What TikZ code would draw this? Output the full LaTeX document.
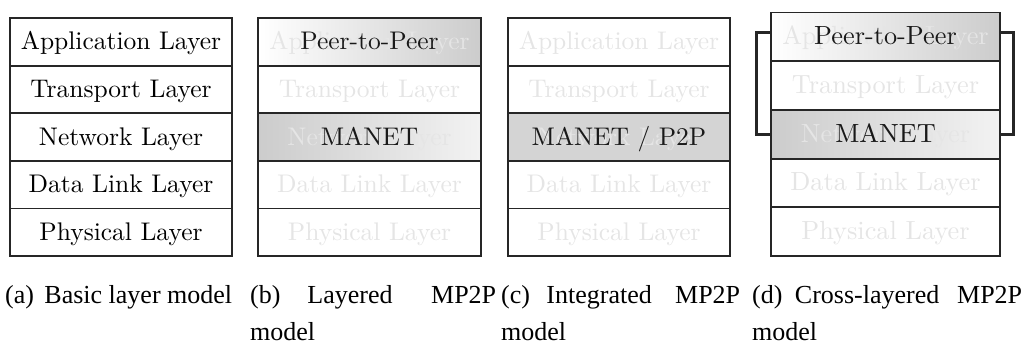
\documentclass[tikz,border=0pt]{standalone}
\usepackage{fontspec}
\newfontfamily\capfont{Liberation Serif}
\newfontfamily\boxfont{lmroman10-regular}[Extension=.otf]
\definecolor{fadetext}{gray}{0.9}
\definecolor{bandgray}{gray}{0.8}
\definecolor{bandlight}{gray}{0.95}
\definecolor{flatgray}{gray}{0.83}
\tikzset{
  layer/.style={draw=black!85, line width=1.8pt, inner sep=0pt,
    minimum height=47.6pt, text height=20pt, text depth=4pt,
    font=\boxfont\fontsize{25.5}{30}\selectfont},
  biglayer/.style={layer, minimum height=48.7pt,
    font=\boxfont\fontsize{26.3}{31}\selectfont},
  ghost/.style={text=fadetext},
  plain/.style={},
  p2pband/.style={left color=white, right color=bandgray},
  manetband/.style={left color=bandgray, right color=bandlight},
  mergedband/.style={fill=flatgray},
  overlay/.style={inner sep=0pt, anchor=base, text=black!90},
  bracket/.style={line width=3pt, draw=black!85},
  caption/.style={inner sep=0pt, anchor=base west, align=left,
    font=\capfont\fontsize{26}{37}\selectfont},
}
\newcommand\labelgap{\hspace{0pt plus 0.7fill}}
\begin{document}
\begin{tikzpicture}[x=1pt, y=-1pt]
\useasboundingbox (0,0) rectangle (1025,343);

% (a) basic five-layer stack
\foreach \t [count=\i] in {Application Layer,Transport Layer,Network Layer,Data Link Layer,Physical Layer}
  \node[layer, minimum width=222pt] (a\i) at (121,{18+47.6*(\i-0.5)}) {\t};

% (b) layered MP2P
\foreach \t/\s [count=\i] in {Application Layer/p2pband,Transport Layer/plain,Network Layer/manetband,Data Link Layer/plain,Physical Layer/plain}
  \node[layer, ghost, \s, minimum width=223pt] (b\i) at (369.5,{18+47.6*(\i-0.5)}) {\t};
\node[overlay, font=\boxfont\fontsize{25.5}{30}\selectfont] (bp2p) at (b1.base) {Peer-to-Peer};
\node[overlay, font=\boxfont\fontsize{25.5}{30}\selectfont] (bmanet) at (b3.base) {MANET};

% (c) integrated MP2P
\foreach \t/\s [count=\i] in {Application Layer/plain,Transport Layer/plain,Network Layer/mergedband,Data Link Layer/plain,Physical Layer/plain}
  \node[layer, ghost, \s, minimum width=222pt] (c\i) at (619,{18+47.6*(\i-0.5)}) {\t};
\node[overlay, font=\boxfont\fontsize{25.5}{30}\selectfont] (cmerged) at (c3.base) {MANET / P2P};

% (d) cross-layered MP2P
\foreach \t/\s [count=\i] in {Application Layer/p2pband,Transport Layer/plain,Network Layer/manetband,Data Link Layer/plain,Physical Layer/plain}
  \node[biglayer, ghost, \s, minimum width=229pt] (d\i) at (885.5,{12.5+48.7*(\i-0.5)}) {\t};
\node[overlay, font=\boxfont\fontsize{26.3}{31}\selectfont] (dp2p) at (d1.base) {Peer-to-Peer};
\node[overlay, font=\boxfont\fontsize{26.3}{31}\selectfont] (dmanet) at (d3.base) {MANET};

% cross-layer links between the P2P and MANET layers
\draw[bracket] ([yshift=4pt]d1.west) -- ++(-14,0) |- (d3.west);
\draw[bracket] ([yshift=4pt]d1.east) -- ++(13,0) |- (d3.east);

% sub-captions
\node[caption] (capa) at (5,303) {(a)\hspace{0.4em}Basic layer model};
\node[caption, text width=246pt] (capb) at (250,303) {(b)\labelgap Layered\hfill MP2P\\model};
\node[caption, text width=239pt] (capc) at (501,303) {(c)\labelgap Integrated\hfill MP2P\\model};
\node[caption, text width=270pt] (capd) at (752,303) {(d)\labelgap Cross-layered\hfill MP2P\\model};
\end{tikzpicture}
\end{document}
